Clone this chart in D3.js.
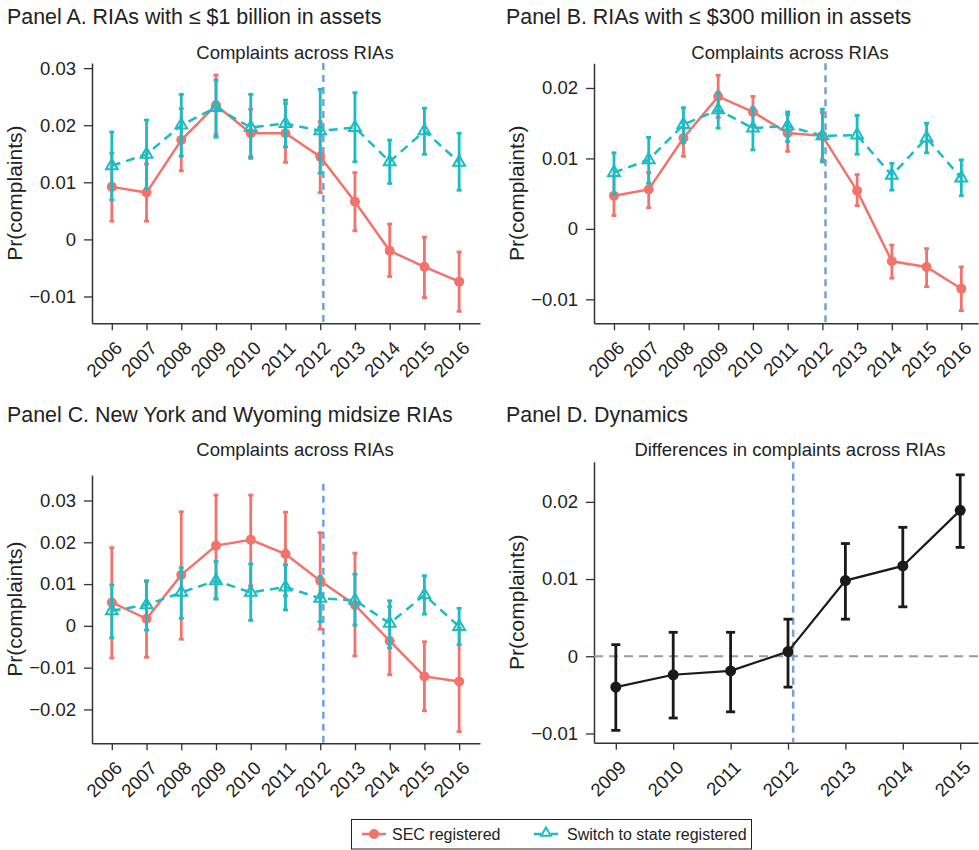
<!DOCTYPE html>
<html><head><meta charset="utf-8">
<script src="https://cdn.jsdelivr.net/npm/d3@7"></script>
<style>body{margin:0;background:#fff}svg{display:block}text{font-family:"Liberation Sans",Arial,Helvetica,sans-serif;fill:#222}</style>
</head><body><svg id="c" width="979" height="850"></svg>
<script>
// ---------- data ----------
const years = [2006,2007,2008,2009,2010,2011,2012,2013,2014,2015,2016];
const yearsD = [2009,2010,2011,2012,2013,2014,2015];

const A_sec   = [0.0092,0.0082,0.0174,0.0235,0.0186,0.0186,0.0145,0.0066,-0.0020,-0.0048,-0.0074];
const A_secLo = [0.0032,0.0032,0.0120,0.0183,0.0145,0.0135,0.0082,0.0015,-0.0065,-0.0102,-0.0126];
const A_secHi = [0.0151,0.0132,0.0229,0.0288,0.0228,0.0238,0.0206,0.0117,0.0027,0.0004,-0.0022];
const A_sw    = [0.0129,0.0149,0.0200,0.0231,0.0196,0.0203,0.0190,0.0196,0.0136,0.0190,0.0135];
const A_swLo  = [0.0069,0.0089,0.0146,0.0179,0.0142,0.0162,0.0116,0.0136,0.0098,0.0149,0.0086];
const A_swHi  = [0.0188,0.0209,0.0254,0.0279,0.0254,0.0244,0.0263,0.0257,0.0174,0.0230,0.0186];

const B_sec   = [0.0047,0.0056,0.0129,0.0188,0.0166,0.0136,0.0132,0.0054,-0.0046,-0.0054,-0.0085];
const B_secLo = [0.0019,0.0030,0.0103,0.0158,0.0145,0.0110,0.0098,0.0033,-0.0070,-0.0082,-0.0116];
const B_secHi = [0.0075,0.0080,0.0151,0.0218,0.0188,0.0162,0.0165,0.0077,-0.0023,-0.0028,-0.0054];
const B_sw    = [0.0080,0.0098,0.0148,0.0169,0.0143,0.0146,0.0132,0.0133,0.0076,0.0129,0.0072];
const B_swLo  = [0.0049,0.0065,0.0122,0.0143,0.0112,0.0124,0.0095,0.0106,0.0055,0.0108,0.0047];
const B_swHi  = [0.0108,0.0130,0.0172,0.0194,0.0172,0.0166,0.0170,0.0161,0.0093,0.0150,0.0098];

const C_sec   = [0.0056,0.0017,0.0122,0.0192,0.0206,0.0172,0.0108,0.0050,-0.0036,-0.0121,-0.0133];
const C_secLo = [-0.0077,-0.0075,-0.0032,0.0065,0.0096,0.0072,-0.0008,-0.0072,-0.0117,-0.0203,-0.0253];
const C_secHi = [0.0187,0.0106,0.0273,0.0313,0.0313,0.0272,0.0223,0.0174,0.0046,-0.0038,-0.0006];
const C_sw    = [0.0036,0.0050,0.0080,0.0108,0.0080,0.0093,0.0066,0.0061,0.0006,0.0074,-0.0002];
const C_swLo  = [-0.0029,-0.0010,0.0018,0.0064,0.0013,0.0038,0.0010,0.0002,-0.0053,0.0028,-0.0045];
const C_swHi  = [0.0098,0.0108,0.0139,0.0154,0.0148,0.0146,0.0118,0.0124,0.0060,0.0120,0.0042];

const D_diff  = [-0.0040,-0.0024,-0.0019,0.0006,0.0098,0.0117,0.0189];
const D_lo    = [-0.0096,-0.0080,-0.0072,-0.0040,0.0048,0.0064,0.0141];
const D_hi    = [0.0015,0.0031,0.0031,0.0048,0.0146,0.0167,0.0235];

const ticksA = [-0.01,0,0.01,0.02,0.03];
const ticksB = [-0.01,0,0.01,0.02];
const ticksC = [-0.02,-0.01,0,0.01,0.02,0.03];
const ticksD = [-0.01,0,0.01,0.02];

const panelTitles = ["Panel A. RIAs with \u2264 $1 billion in assets","Panel B. RIAs with \u2264 $300 million in assets","Panel C. New York and Wyoming midsize RIAs","Panel D. Dynamics"];
const subTitles = ["Complaints across RIAs","Complaints across RIAs","Complaints across RIAs","Differences in complaints across RIAs"];
const yLabel = "Pr(complaints)";
const legendLabels = ["SEC registered","Switch to state registered"];
const policyYear = 2012.09;

// ---------- style ----------
const RED = "#F2736B", TEAL = "#1BBDC4", BLUE = "#74A0D8", AX = "#333";
const FONT = '"Liberation Sans",Arial,sans-serif';
const svg = d3.select("#c");
const fmt = v => v === 0 ? "0" : (v < 0 ? "\u2212" : "") + d3.format(".2f")(Math.abs(v));

function panel(cfg){
  const g = svg.append("g");
  const x = d3.scaleLinear().domain(cfg.xd).range([cfg.x0, cfg.x1]);
  const y = d3.scaleLinear().domain(cfg.yd).range([cfg.y1, cfg.y0]);
  // titles
  g.append("text").attr("x", cfg.tx).attr("y", cfg.ty).attr("font-size", 21.4).text(cfg.title);
  g.append("text").attr("x", cfg.sx).attr("y", cfg.sy).attr("font-size", 18.5).attr("text-anchor","middle").text(cfg.sub);
  g.append("text").attr("transform", `translate(${cfg.x0-70},${(cfg.y0+cfg.y1)/2}) rotate(-90)`)
    .attr("text-anchor","middle").attr("font-size", 21).text(yLabel);
  // axes
  const ya = g.append("g").attr("transform", `translate(${cfg.x0},0)`)
    .call(d3.axisLeft(y).tickValues(cfg.ticks).tickFormat(fmt).tickSize(8).tickPadding(8).tickSizeOuter(0));
  ya.select(".domain").attr("stroke", AX).attr("stroke-width", 1.5);
  ya.selectAll(".tick line").attr("stroke", AX).attr("stroke-width", 1.3);
  ya.selectAll(".tick text").attr("font-size", 18.5).attr("fill", "#222").attr("font-family", FONT);
  const xa = g.append("g").attr("transform", `translate(0,${cfg.y1})`)
    .call(d3.axisBottom(x).tickValues(cfg.years).tickFormat(d3.format("d")).tickSize(7).tickSizeOuter(0));
  xa.select(".domain").attr("stroke", AX).attr("stroke-width", 1.5);
  xa.selectAll(".tick line").attr("stroke", AX).attr("stroke-width", 1.3);
  xa.selectAll(".tick text").attr("font-size", 18.5).attr("fill", "#222").attr("font-family", FONT)
    .attr("text-anchor","end").attr("dy", null).attr("y", null)
    .attr("transform","translate(11,26) rotate(-45)");
  // zero line (panel D)
  if (cfg.zero) {
    g.append("line").attr("x1", cfg.x0).attr("x2", cfg.x1).attr("y1", y(0)).attr("y2", y(0))
      .attr("stroke", "#9a9a9a").attr("stroke-width", 2).attr("stroke-dasharray", "9,6");
  }
  // policy line
  g.append("line").attr("x1", x(policyYear)).attr("x2", x(policyYear)).attr("y1", y(cfg.vTop)).attr("y2", cfg.y1)
    .attr("stroke", BLUE).attr("stroke-width", 2.5).attr("stroke-dasharray", "7,5");
  // series
  cfg.series.forEach(s => {
    const rows = cfg.years.map((yr,i) => ({yr, v:s.v[i], lo:s.lo[i], hi:s.hi[i]}));
    const sg = g.append("g");
    sg.selectAll("line.eb").data(rows).join("line").attr("x1", d=>x(d.yr)).attr("x2", d=>x(d.yr))
      .attr("y1", d=>y(d.lo)).attr("y2", d=>y(d.hi)).attr("stroke", s.color).attr("stroke-width", s.ebw);
    ["lo","hi"].forEach(k => sg.selectAll("line.c"+k).data(rows).join("line")
      .attr("x1", d=>x(d.yr)-s.cap).attr("x2", d=>x(d.yr)+s.cap).attr("y1", d=>y(d[k])).attr("y2", d=>y(d[k]))
      .attr("stroke", s.color).attr("stroke-width", s.ebw));
    sg.append("path").datum(rows).attr("d", d3.line().x(d=>x(d.yr)).y(d=>y(d.v)))
      .attr("fill","none").attr("stroke", s.color).attr("stroke-width", s.lw)
      .attr("stroke-dasharray", s.dash || null);
    if (s.shape === "circle") {
      sg.selectAll("circle").data(rows).join("circle").attr("cx", d=>x(d.yr)).attr("cy", d=>y(d.v))
        .attr("r", s.r).attr("fill", s.color);
    } else {
      sg.selectAll("path.tri").data(rows).join("path").attr("class","tri")
        .attr("transform", d=>`translate(${x(d.yr)},${y(d.v)})`)
        .attr("d", d3.symbol(d3.symbolTriangle, 60)()).attr("fill","none")
        .attr("stroke", s.color).attr("stroke-width", 2);
    }
  });
}

function twoSeries(sec, secLo, secHi, sw, swLo, swHi){
  return [
    {v:sec, lo:secLo, hi:secHi, color:RED, shape:"circle", r:5, lw:2.5, ebw:2.8, cap:2.5},
    {v:sw, lo:swLo, hi:swHi, color:TEAL, shape:"tri", lw:2.5, ebw:2.8, cap:2.5, dash:"9,6"}
  ];
}

panel({title:panelTitles[0], sub:subTitles[0], tx:7, ty:24, sx:295, sy:59,
  x0:92, x1:480, y0:63, y1:323.3, xd:[2005.43,2016.6], yd:[-0.0147,0.0309], ticks:ticksA, years:years, vTop:0.0309,
  series: twoSeries(A_sec,A_secLo,A_secHi,A_sw,A_swLo,A_swHi)});
panel({title:panelTitles[1], sub:subTitles[1], tx:506, ty:24, sx:790, sy:59,
  x0:594, x1:978, y0:63.3, y1:323.3, xd:[2005.425,2016.48], yd:[-0.0134,0.0235], ticks:ticksB, years:years, vTop:0.0235,
  series: twoSeries(B_sec,B_secLo,B_secHi,B_sw,B_swLo,B_swHi)});
panel({title:panelTitles[2], sub:subTitles[2], tx:7, ty:422, sx:295, sy:456,
  x0:92, x1:480, y0:475, y1:743.3, xd:[2005.43,2016.6], yd:[-0.0281,0.0361], ticks:ticksC, years:years, vTop:0.034,
  series: twoSeries(C_sec,C_secLo,C_secHi,C_sw,C_swLo,C_swHi)});
panel({title:panelTitles[3], sub:subTitles[3], tx:506, ty:422, sx:790, sy:456, zero:true,
  x0:594, x1:978, y0:461.7, y1:742.7, xd:[2008.62,2015.31], yd:[-0.0112,0.0252], ticks:ticksD, years:yearsD, vTop:0.0252,
  series: [{v:D_diff, lo:D_lo, hi:D_hi, color:"#1a1a1a", shape:"circle", r:5.5, lw:2.2, ebw:2.8, cap:4.5}]});

// legend
const lg = svg.append("g");
lg.append("rect").attr("x", 351.5).attr("y", 819.5).attr("width", 400).attr("height", 29.5)
  .attr("fill","#fff").attr("stroke","#222").attr("stroke-width",1);
lg.append("line").attr("x1",362).attr("x2",386).attr("y1",834).attr("y2",834).attr("stroke",RED).attr("stroke-width",2.5);
lg.append("circle").attr("cx",374).attr("cy",834).attr("r",5).attr("fill",RED);
lg.append("text").attr("x",392).attr("y",840).attr("font-size",16).text(legendLabels[0]);
lg.append("line").attr("x1",534).attr("x2",560).attr("y1",834).attr("y2",834).attr("stroke",TEAL).attr("stroke-width",2.5).attr("stroke-dasharray","7,10");
lg.append("path").attr("transform","translate(546,833)").attr("d", d3.symbol(d3.symbolTriangle, 40)())
  .attr("fill","#fff").attr("stroke",TEAL).attr("stroke-width",2);
lg.append("text").attr("x",567).attr("y",840).attr("font-size",16).text(legendLabels[1]);
</script></body></html>
